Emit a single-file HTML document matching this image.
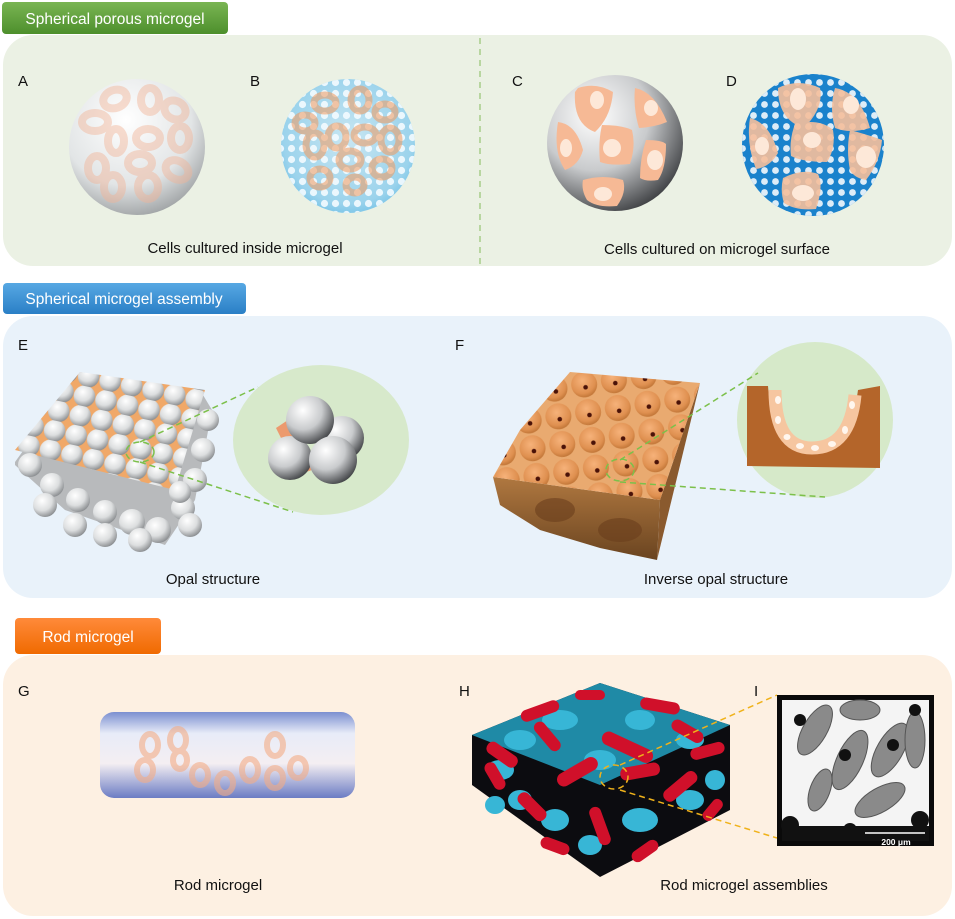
<!DOCTYPE html>
<html><head><meta charset="utf-8"><style>
html,body{margin:0;padding:0;background:#fff;}
svg{display:block;font-family:"Liberation Sans",Arial,sans-serif;}
</style></head><body>
<svg width="955" height="919" viewBox="0 0 955 919" xmlns="http://www.w3.org/2000/svg">
<defs>
<radialGradient id="gs" cx="0.38" cy="0.32" r="0.75"><stop offset="0" stop-color="#ffffff"/><stop offset="0.55" stop-color="#dcdedf"/><stop offset="1" stop-color="#7f8285"/></radialGradient>
<radialGradient id="gsA" cx="0.42" cy="0.3" r="0.8"><stop offset="0" stop-color="#ffffff"/><stop offset="0.6" stop-color="#e2e5e6"/><stop offset="1" stop-color="#8c9092"/></radialGradient>
<radialGradient id="gs2" cx="0.35" cy="0.3" r="0.8"><stop offset="0" stop-color="#ffffff"/><stop offset="0.5" stop-color="#c9cbcd"/><stop offset="1" stop-color="#2e3033"/></radialGradient>
<radialGradient id="gbB" cx="0.5" cy="0.45" r="0.6"><stop offset="0" stop-color="#c8e6f2"/><stop offset="0.8" stop-color="#9bd3ec"/><stop offset="1" stop-color="#6fc0e6"/></radialGradient>
<pattern id="holes" width="11" height="11" patternUnits="userSpaceOnUse"><circle cx="5.5" cy="5.5" r="3.4" fill="#ffffff" opacity="0.85"/></pattern>
<pattern id="holesB" width="11" height="11" patternUnits="userSpaceOnUse"><circle cx="5.5" cy="5.5" r="3.6" fill="#f3fbff" opacity="0.9"/></pattern>
<pattern id="opal" width="22" height="20" patternUnits="userSpaceOnUse" patternTransform="rotate(12)"><rect width="22" height="20" fill="#f0a868"/><circle cx="11" cy="10" r="10.8" fill="url(#gs)"/></pattern>
<radialGradient id="bowl" cx="0.45" cy="0.35" r="0.7"><stop offset="0" stop-color="#f6b27a"/><stop offset="0.7" stop-color="#df9050"/><stop offset="1" stop-color="#b86e30"/></radialGradient>
<pattern id="inv" width="30" height="28" patternUnits="userSpaceOnUse" patternTransform="rotate(-8)"><rect width="30" height="28" fill="#e9aa70"/><circle cx="15" cy="14" r="13" fill="url(#bowl)"/><circle cx="16" cy="17" r="2.3" fill="#4a1208"/></pattern>
<linearGradient id="rod" x1="0" y1="0" x2="0" y2="1"><stop offset="0" stop-color="#7b8fd0"/><stop offset="0.25" stop-color="#e8ecf8"/><stop offset="0.6" stop-color="#f4eef2"/><stop offset="1" stop-color="#6b7cc4"/></linearGradient>
<linearGradient id="tg" x1="0" y1="0" x2="0" y2="1"><stop offset="0" stop-color="#7ab553"/><stop offset="1" stop-color="#4d8f2c"/></linearGradient>
<linearGradient id="tb" x1="0" y1="0" x2="0" y2="1"><stop offset="0" stop-color="#57a8e3"/><stop offset="1" stop-color="#2a7fc6"/></linearGradient>
<linearGradient id="to" x1="0" y1="0" x2="0" y2="1"><stop offset="0" stop-color="#ff8a3a"/><stop offset="1" stop-color="#f06a00"/></linearGradient>
<linearGradient id="invside" x1="0" y1="0" x2="0" y2="1"><stop offset="0" stop-color="#b07840"/><stop offset="1" stop-color="#6a4420"/></linearGradient>
</defs>

<!-- Panel 1 -->
<rect x="3" y="35" width="949" height="231" rx="30" fill="#ebf1e4"/>
<line x1="480" y1="38" x2="480" y2="264" stroke="#9cc87c" stroke-width="1.3" stroke-dasharray="6,5"/>
<rect x="2" y="2" width="226" height="32" rx="4" fill="url(#tg)"/>
<text x="115" y="24" font-size="15.5" fill="#fff" text-anchor="middle">Spherical porous microgel</text>
<g font-size="15" fill="#111">
<text x="18" y="86">A</text><text x="250" y="86">B</text><text x="512" y="86">C</text><text x="726" y="86">D</text>
</g>
<circle cx="137" cy="147" r="68" fill="url(#gsA)"/>
<g fill="none" stroke="#f2b497" stroke-width="8" opacity="0.45">
<ellipse cx="115" cy="99" rx="12" ry="9" transform="rotate(-20 115 99)"/><ellipse cx="150" cy="100" rx="9" ry="12"/><ellipse cx="175" cy="110" rx="11" ry="9" transform="rotate(30 175 110)"/><ellipse cx="95" cy="122" rx="13" ry="9"/><ellipse cx="116" cy="141" rx="8" ry="12"/><ellipse cx="148" cy="138" rx="12" ry="9"/><ellipse cx="180" cy="138" rx="9" ry="12"/><ellipse cx="97" cy="168" rx="9" ry="12"/><ellipse cx="140" cy="163" rx="12" ry="9"/><ellipse cx="177" cy="170" rx="12" ry="9" transform="rotate(30 177 170)"/><ellipse cx="113" cy="187" rx="9" ry="12"/><ellipse cx="148" cy="187" rx="10" ry="12"/></g>
<circle cx="348" cy="146" r="67" fill="url(#gbB)"/>
<circle cx="348" cy="146" r="67" fill="url(#holesB)"/>
<g fill="none" stroke="#f29a5e" stroke-width="7" opacity="0.55"><ellipse cx="325" cy="103" rx="11" ry="8"/><ellipse cx="360" cy="100" rx="9" ry="11"/><ellipse cx="385" cy="112" rx="10" ry="8"/><ellipse cx="305" cy="123" rx="10" ry="8"/><ellipse cx="315" cy="145" rx="9" ry="12"/><ellipse cx="337" cy="137" rx="9" ry="11"/><ellipse cx="365" cy="135" rx="11" ry="8"/><ellipse cx="390" cy="140" rx="9" ry="12"/><ellipse cx="350" cy="160" rx="11" ry="9"/><ellipse cx="382" cy="168" rx="10" ry="9"/><ellipse cx="320" cy="178" rx="10" ry="9"/><ellipse cx="355" cy="185" rx="9" ry="8"/></g>
<circle cx="615" cy="143" r="68" fill="url(#gs2)"/>
<g fill="#f6b995"><path d="M578 88 q18 -6 35 4 q-2 25 -18 40 q-22 -8 -20 -40z"/><path d="M635 88 q20 4 32 34 q-12 5 -28 6 q-6 -20 -4 -40z"/><path d="M558 122 q18 2 25 28 q-4 15 -18 20 q-12 -18 -7 -48z"/><path d="M602 125 q20 0 30 5 q4 16 -2 34 q-20 2 -30 -2 q-2 -20 2 -37z"/><path d="M646 140 q16 0 20 4 q0 25 -8 36 q-12 2 -18 -2 q0 -20 6 -38z"/><path d="M583 180 q20 -6 40 0 q4 12 -6 26 q-20 2 -30 -6 q-6 -10 -4 -20z"/></g>
<g fill="#fde8d8"><ellipse cx="597" cy="100" rx="7" ry="9"/><ellipse cx="651" cy="108" rx="7" ry="8"/><ellipse cx="566" cy="148" rx="6" ry="9"/><ellipse cx="612" cy="148" rx="9" ry="9"/><ellipse cx="655" cy="160" rx="8" ry="10"/><ellipse cx="603" cy="194" rx="9" ry="7"/></g>
<circle cx="813" cy="145" r="71" fill="#1a82cc"/>
<circle cx="813" cy="145" r="71" fill="url(#holes)"/>
<g fill="#f6bf9c" opacity="0.9"><path d="M778 88 q20 -10 42 0 q4 20 -16 40 q-26 -8 -26 -40z"/><path d="M835 88 q25 4 35 40 q-20 6 -35 0 q-6 -20 0 -40z"/><path d="M750 118 q20 5 28 35 q-8 14 -22 16 q-10 -25 -6 -51z"/><path d="M795 124 q25 -6 38 6 q3 18 -6 32 q-25 0 -36 -6 q-2 -16 4 -32z"/><path d="M850 130 q22 6 32 10 q-2 22 -16 40 q-12 -2 -16 -10 q-4 -20 0 -40z"/><path d="M783 178 q20 -10 35 -4 q6 12 -2 35 q-20 2 -32 -6 q-4 -12 -1 -25z"/></g>
<g fill="#fde8d8"><ellipse cx="798" cy="99" rx="8" ry="11"/><ellipse cx="851" cy="105" rx="8" ry="9"/><ellipse cx="762" cy="146" rx="7" ry="9"/><ellipse cx="812" cy="140" rx="9" ry="8"/><ellipse cx="866" cy="157" rx="10" ry="11"/><ellipse cx="803" cy="193" rx="11" ry="8"/></g>
<text x="245" y="253" font-size="15" fill="#111" text-anchor="middle">Cells cultured inside microgel</text>
<text x="717" y="254" font-size="15" fill="#111" text-anchor="middle">Cells cultured on microgel surface</text>

<!-- Panel 2 -->
<rect x="3" y="316" width="949" height="282" rx="30" fill="#e9f2fa"/>
<rect x="3" y="283" width="243" height="31" rx="4" fill="url(#tb)"/>
<text x="124" y="304" font-size="15.5" fill="#fff" text-anchor="middle">Spherical microgel assembly</text>
<text x="18" y="350" font-size="15" fill="#111">E</text>
<text x="455" y="350" font-size="15" fill="#111">F</text>
<polygon points="15,465 65,510 165,545 195,500 212,410 203,395 80,372 15,462" fill="#b8babc"/>
<polygon points="15,450 80,372 205,390 175,490" fill="url(#opal)"/>
<g fill="url(#gs)"><circle cx="30" cy="465" r="12"/><circle cx="52" cy="485" r="12"/><circle cx="78" cy="500" r="12"/><circle cx="105" cy="512" r="12"/><circle cx="132" cy="522" r="13"/><circle cx="158" cy="530" r="13"/><circle cx="183" cy="508" r="12"/><circle cx="195" cy="480" r="12"/><circle cx="203" cy="450" r="12"/><circle cx="208" cy="420" r="11"/><circle cx="45" cy="505" r="12"/><circle cx="75" cy="525" r="12"/><circle cx="105" cy="535" r="12"/><circle cx="140" cy="540" r="12"/><circle cx="190" cy="525" r="12"/><circle cx="180" cy="492" r="11"/></g>
<ellipse cx="321" cy="440" rx="88" ry="75" fill="#d7e9cb"/>
<g stroke="#7cc04a" stroke-width="1.5" stroke-dasharray="6,4" fill="none"><line x1="140" y1="442" x2="258" y2="387"/><line x1="140" y1="462" x2="293" y2="512"/><ellipse cx="140" cy="452" rx="14" ry="10"/></g>
<g fill="#ec9a6e"><path d="M276 428 l15 -10 l10 20 l-15 10z"/><path d="M330 430 l15 0 l0 20 l-15 -4z"/><path d="M298 455 l12 -6 l5 20 l-12 4z"/></g>
<circle cx="342" cy="438" r="22" fill="url(#gs2)"/>
<circle cx="290" cy="458" r="22" fill="url(#gs2)"/>
<circle cx="310" cy="420" r="24" fill="url(#gs2)"/>
<circle cx="333" cy="460" r="24" fill="url(#gs2)"/>

<polygon points="493,477 660,500 657,560 600,548 540,530 500,505" fill="url(#invside)"/>
<g fill="#6a3e1c" opacity="0.6"><ellipse cx="555" cy="510" rx="20" ry="12"/><ellipse cx="620" cy="530" rx="22" ry="12"/></g>
<polygon points="660,500 700,383 657,560" fill="#8a5a2e"/>
<polygon points="493,477 520,430 570,372 700,383 660,500" fill="url(#inv)"/>
<ellipse cx="815" cy="420" rx="78" ry="78" fill="#d6e9c9"/>
<g stroke="#7cc04a" stroke-width="1.5" stroke-dasharray="6,4" fill="none"><line x1="620" y1="460" x2="758" y2="373"/><line x1="620" y1="482" x2="825" y2="497"/><ellipse cx="620" cy="470" rx="14" ry="11"/></g>
<path d="M747 386 L768 386 Q772 450 810 452 Q850 452 858 390 L880 386 L880 468 L747 466 Z" fill="#b4652a"/>
<path d="M775 390 Q775 448 812 448 Q850 448 855 395" fill="none" stroke="#f6c6a0" stroke-width="13"/>
<g fill="#fff6ee"><ellipse cx="778" cy="400" rx="3" ry="4"/><ellipse cx="778" cy="420" rx="3" ry="4"/><ellipse cx="787" cy="437" rx="3.5" ry="3"/><ellipse cx="800" cy="446" rx="4" ry="3"/><ellipse cx="815" cy="448" rx="4" ry="3"/><ellipse cx="832" cy="444" rx="4" ry="3"/><ellipse cx="845" cy="430" rx="3" ry="4"/><ellipse cx="852" cy="405" rx="3" ry="4"/></g>
<text x="213" y="584" font-size="15" fill="#111" text-anchor="middle">Opal structure</text>
<text x="716" y="584" font-size="15" fill="#111" text-anchor="middle">Inverse opal structure</text>

<!-- Panel 3 -->
<rect x="3" y="655" width="949" height="261" rx="30" fill="#fdf0e2"/>
<rect x="15" y="618" width="146" height="36" rx="4" fill="url(#to)"/>
<text x="88" y="642" font-size="15.5" fill="#fff" text-anchor="middle">Rod microgel</text>
<text x="18" y="696" font-size="15" fill="#111">G</text>
<text x="459" y="696" font-size="15" fill="#111">H</text>
<text x="754" y="696" font-size="15" fill="#111">I</text>
<rect x="100" y="712" width="255" height="86" rx="14" fill="url(#rod)"/>
<g fill="none" stroke="#f4ad86" stroke-width="6" opacity="0.6"><ellipse cx="150" cy="745" rx="8" ry="11"/><ellipse cx="178" cy="740" rx="8" ry="11"/><ellipse cx="145" cy="770" rx="8" ry="10"/><ellipse cx="200" cy="775" rx="8" ry="10"/><ellipse cx="225" cy="783" rx="8" ry="10"/><ellipse cx="250" cy="770" rx="8" ry="11"/><ellipse cx="275" cy="778" rx="8" ry="10"/><ellipse cx="298" cy="768" rx="8" ry="10"/><ellipse cx="275" cy="745" rx="8" ry="11"/><ellipse cx="180" cy="760" rx="7" ry="9"/></g>
<polygon points="472,735 600,683 730,725 730,810 600,877 472,785" fill="#0c0c10"/>
<polygon points="472,735 600,683 730,725 600,785" fill="#1f8aa6"/>
<g fill="#37b6d6"><ellipse cx="500" cy="770" rx="14" ry="10"/><ellipse cx="520" cy="800" rx="12" ry="10"/><ellipse cx="555" cy="820" rx="14" ry="11"/><ellipse cx="590" cy="845" rx="12" ry="10"/><ellipse cx="640" cy="820" rx="18" ry="12"/><ellipse cx="690" cy="800" rx="14" ry="10"/><ellipse cx="715" cy="780" rx="10" ry="10"/><ellipse cx="560" cy="720" rx="18" ry="10"/><ellipse cx="520" cy="740" rx="16" ry="10"/><ellipse cx="640" cy="720" rx="15" ry="10"/><ellipse cx="690" cy="740" rx="14" ry="9"/><ellipse cx="600" cy="760" rx="16" ry="10"/><ellipse cx="495" cy="805" rx="10" ry="9"/></g>
<g fill="#d0102a"><rect x="520" y="705" width="40" height="12" rx="6" transform="rotate(-20 540 711)"/><rect x="600" y="740" width="55" height="14" rx="7" transform="rotate(25 627 747)"/><rect x="485" y="748" width="35" height="13" rx="6" transform="rotate(35 502 754)"/><rect x="555" y="765" width="45" height="14" rx="7" transform="rotate(-30 577 772)"/><rect x="640" y="700" width="40" height="12" rx="6" transform="rotate(10 660 706)"/><rect x="660" y="780" width="40" height="13" rx="6" transform="rotate(-40 680 786)"/><rect x="515" y="800" width="35" height="13" rx="6" transform="rotate(45 532 806)"/><rect x="580" y="820" width="40" height="12" rx="6" transform="rotate(70 600 826)"/><rect x="690" y="745" width="35" height="12" rx="6" transform="rotate(-15 707 751)"/><rect x="575" y="690" width="30" height="10" rx="5"/><rect x="480" y="770" width="30" height="12" rx="6" transform="rotate(60 495 776)"/><rect x="540" y="840" width="30" height="12" rx="6" transform="rotate(20 555 846)"/><rect x="630" y="845" width="30" height="12" rx="6" transform="rotate(-35 645 851)"/><rect x="700" y="805" width="25" height="11" rx="5" transform="rotate(-50 712 810)"/><rect x="620" y="765" width="40" height="13" rx="6" transform="rotate(-10 640 771)"/><rect x="530" y="730" width="35" height="12" rx="6" transform="rotate(50 547 736)"/><rect x="670" y="725" width="35" height="12" rx="6" transform="rotate(30 687 731)"/></g>
<g stroke="#f0b21a" stroke-width="1.5" stroke-dasharray="6,4" fill="none"><line x1="620" y1="765" x2="777" y2="695"/><line x1="620" y1="790" x2="777" y2="838"/><ellipse cx="614" cy="777" rx="14" ry="12"/></g>
<rect x="777" y="695" width="157" height="151" fill="#0a0a0a"/>
<rect x="782" y="700" width="147" height="141" fill="#f4f4f4"/>
<g fill="#8a8a8a" stroke="#555" stroke-width="1"><ellipse cx="815" cy="730" rx="12" ry="28" transform="rotate(30 815 730)"/><ellipse cx="850" cy="760" rx="13" ry="32" transform="rotate(25 850 760)"/><ellipse cx="890" cy="750" rx="13" ry="30" transform="rotate(30 890 750)"/><ellipse cx="915" cy="740" rx="10" ry="28"/><ellipse cx="880" cy="800" rx="12" ry="28" transform="rotate(60 880 800)"/><ellipse cx="820" cy="790" rx="10" ry="22" transform="rotate(20 820 790)"/><ellipse cx="860" cy="710" rx="20" ry="10"/></g>
<g fill="#111"><circle cx="800" cy="720" r="6"/><circle cx="845" cy="755" r="6"/><circle cx="893" cy="745" r="6"/><circle cx="790" cy="825" r="9"/><circle cx="850" cy="830" r="7"/><circle cx="920" cy="820" r="9"/><circle cx="915" cy="710" r="6"/></g>
<rect x="782" y="826" width="147" height="15" fill="#111"/>
<line x1="865" y1="833" x2="925" y2="833" stroke="#fff" stroke-width="1.5"/>
<text x="896" y="845" font-size="8.5" fill="#fff" text-anchor="middle" font-weight="bold">200 μm</text>
<text x="218" y="890" font-size="15" fill="#111" text-anchor="middle">Rod microgel</text>
<text x="744" y="890" font-size="15" fill="#111" text-anchor="middle">Rod microgel assemblies</text>
</svg>
</body></html>
